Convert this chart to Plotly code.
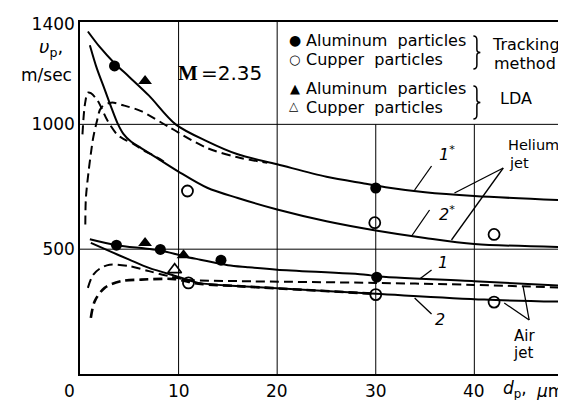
import plotly.graph_objects as go

# ---------------- data ----------------
# Helium jet, calculated curves
he1_x = [0.8, 2.0, 3.5, 5.0, 7.0, 9.7, 12.9, 16, 20, 25, 29, 31, 35, 40, 49.5]
he1_v = [1372, 1310, 1245, 1190, 1115, 1000, 932, 880, 840, 790, 762, 748, 728, 713, 695]
he2_x = [1.0, 1.7, 2.5, 3.2, 3.8, 4.4, 5.2, 6.2, 7.5, 9.9, 12.9, 16, 20, 25, 30, 35, 40, 49.5]
he2_v = [1317, 1225, 1140, 1065, 1005, 962, 930, 905, 873, 813, 746, 705, 659, 612, 575, 545, 521, 508]
heA_x = [0.25, 0.5, 0.8, 1.1, 1.8, 2.8, 3.8, 4.5, 5.4, 6.5, 7.9, 8.6]
heA_v = [960, 1080, 1127, 1125, 1094, 1014, 958, 940, 922, 895, 866, 848]
heB_x = [0.54, 0.6, 0.88, 1.14, 1.31, 1.7, 2.15, 3.16, 4.5, 6.2, 9.2, 12.9, 16, 19]
heB_v = [599, 706, 814, 894, 940, 1010, 1067, 1087, 1075, 1053, 985, 905, 868, 846]

# Air jet, calculated curves
air1_x = [1.0, 3.7, 6.6, 8.2, 10.5, 12.2, 15, 17, 20, 29, 30, 40, 49.6]
air1_v = [540, 516, 503, 495, 472, 458, 436, 428, 418, 398, 392, 372, 352]
air2_x = [1.1, 3.0, 5.0, 7.0, 9.9, 12.0, 16, 20, 30, 41, 49.6]
air2_v = [525, 492, 458, 425, 390, 365, 352, 343, 321, 298, 289]
airC_x = [0.8, 1.3, 2.0, 3.0, 5.0, 7.0, 9.0, 11.0, 16, 30, 40, 49.6]
airC_v = [345, 395, 422, 438, 432, 412, 392, 377, 372, 365, 357, 345]
airD_x = [1.1, 1.5, 2.5, 4.2, 6.2, 9.6, 12.0, 16, 20, 30]
airD_v = [225, 292, 345, 372, 378, 380, 362, 352, 343, 321]

# Experimental points
al_track_x = [3.5, 30.0, 3.7, 8.15, 14.3, 30.1]
al_track_v = [1234, 745, 516, 499, 456, 388]
cu_track_x = [10.9, 29.9, 42.0, 11.0, 30.0, 42.0]
cu_track_v = [733, 606, 559, 365, 318, 288]
al_lda_x = [6.6, 6.6, 10.5]
al_lda_v = [1174, 525, 476]
cu_lda_x = [9.6]
cu_lda_v = [418]

x_ticks = [0, 10, 20, 30, 40]
x_tick_labels = ["0", "10", "20", "30", "40"]
y_ticks = [500, 1000, 1400]

# ---------------- figure ----------------
W, H = 566, 400
L, R, T, B = 72, 4, 14, 34
PW, PH = W - L - R, H - T - B
FONT = "DejaVu Sans"
XMAX, YMAX = 49.5, 1410


def P(px, py):
    return (px - L) / PW, (H - B - py) / PH


fig = go.Figure()

solid = dict(color="black", width=2, shape="spline", smoothing=0.9)
dashed = dict(color="black", width=2, shape="spline", smoothing=0.9, dash="9px,5px")

for xs, ys in [(he1_x, he1_v), (he2_x, he2_v), (air1_x, air1_v), (air2_x, air2_v)]:
    fig.add_trace(go.Scatter(x=xs, y=ys, mode="lines", line=solid, showlegend=False, hoverinfo="skip"))
for xs, ys in [(heA_x, heA_v), (heB_x, heB_v), (airC_x, airC_v)]:
    fig.add_trace(go.Scatter(x=xs, y=ys, mode="lines", line=dashed, showlegend=False, hoverinfo="skip"))
fig.add_trace(go.Scatter(x=airD_x, y=airD_v, mode="lines",
                         line=dict(color="black", width=2.6, shape="spline", smoothing=0.9, dash="9px,5px"),
                         showlegend=False, hoverinfo="skip"))

fig.add_trace(go.Scatter(x=al_track_x, y=al_track_v, mode="markers", showlegend=False,
                         marker=dict(symbol="circle", size=11, color="black")))
fig.add_trace(go.Scatter(x=cu_track_x, y=cu_track_v, mode="markers", showlegend=False,
                         marker=dict(symbol="circle-open", size=11, color="black", line=dict(width=1.8, color="black"))))
fig.add_trace(go.Scatter(x=al_lda_x, y=al_lda_v, mode="markers", showlegend=False,
                         marker=dict(symbol="triangle-up", size=12, color="black")))
fig.add_trace(go.Scatter(x=cu_lda_x, y=cu_lda_v, mode="markers", showlegend=False,
                         marker=dict(symbol="triangle-up-open", size=12, color="black", line=dict(width=1.6, color="black"))))

shapes = []
grid = dict(color="black", width=1)
for xv in [10, 20]:
    shapes.append(dict(type="line", xref="x", yref="y", x0=xv, x1=xv, y0=0, y1=YMAX, line=grid, layer="below"))
for xv in [30, 40]:
    shapes.append(dict(type="line", xref="x", yref="y", x0=xv, x1=xv, y0=0, y1=1000, line=grid, layer="below"))
for yv in [500, 1000]:
    shapes.append(dict(type="line", xref="x", yref="y", x0=0, x1=XMAX, y0=yv, y1=yv, line=grid, layer="below"))

# leader lines (pixel positions)
leaders = [
    ((425, 158), (408, 182)),   # 1*
    ((423, 202), (405, 228)),   # 2*
    ((497, 160), (448, 185)),   # Helium jet -> 1*
    ((497, 160), (445, 232)),   # Helium jet -> 2*
    ((425, 262), (413, 271)),   # 1
    ((425, 306), (408, 290)),   # 2
    ((523, 312), (498, 295)),   # Air jet
    ((523, 312), (517, 279)),   # Air jet
]
for (a, b) in leaders:
    x0, y0 = P(*a)
    x1, y1 = P(*b)
    shapes.append(dict(type="line", xref="paper", yref="paper", x0=x0, y0=y0, x1=x1, y1=y1,
                       line=dict(color="black", width=1.3)))


def brace(px, top, bot):
    mid = (top + bot) / 2
    pts = [
        ("M", [(px, top)]),
        ("Q", [(px + 3.5, top), (px + 3.5, top + 4)]),
        ("L", [(px + 3.5, mid - 3)]),
        ("Q", [(px + 3.5, mid), (px + 7, mid)]),
        ("Q", [(px + 3.5, mid), (px + 3.5, mid + 3)]),
        ("L", [(px + 3.5, bot - 4)]),
        ("Q", [(px + 3.5, bot), (px, bot)]),
    ]
    s = ""
    for cmd, ps in pts:
        s += cmd + " " + " ".join("%.5f,%.5f" % P(x, y) for x, y in ps) + " "
    return s


for top, bot in [(28, 61), (78, 111)]:
    shapes.append(dict(type="path", xref="paper", yref="paper", path=brace(467, top, bot),
                       line=dict(color="black", width=1.5)))

ann = []


def A(px, py, text, size=16, xanchor="center", family=FONT):
    x, y = P(px, py)
    ann.append(dict(xref="paper", yref="paper", x=x, y=y, text=text, showarrow=False,
                    xanchor=xanchor, yanchor="middle", font=dict(family=family, size=size, color="black")))


# x tick labels (placed just under the axis, "0" sits left of the origin as in the source)
for xv, lab in zip(x_ticks, x_tick_labels):
    px = L + xv * PW / XMAX
    if xv == 0:
        px -= 11
    A(px, 383, lab, 17)

# legend block
A(288, 32, "●", 14)
A(287, 51, "○", 13)
A(288, 80, "▲", 13)
A(287, 98, "△", 12)
A(297, 33, "Aluminum  particles", 16, "left")
A(297, 51, "Cupper  particles", 16, "left")
A(297, 81, "Aluminum  particles", 16, "left")
A(297, 99, "Cupper  particles", 16, "left")
A(520, 37, "Tracking", 16)
A(519, 56, "method", 16)
A(510, 90, "LDA", 16)

# M number
A(180, 65, "<b>M</b>", 21, "center", "Liberation Serif")
A(191, 65, "=2.35", 20, "left")

# axis titles
A(43, 40, "<i>υ</i><sub>p</sub>,", 18)
A(38, 67, "m/sec", 17)
A(495, 381, "<i>d</i><sub>p</sub>,", 17, "left")
A(528, 383, "<i>μ</i>m", 17, "left")

# curve labels
A(441, 145, "<i>1</i><sup>*</sup>", 16)
A(441, 205, "<i>2</i><sup>*</sup>", 16)
A(436, 255, "<i>1</i>", 16)
A(433, 311, "<i>2</i>", 16)
A(500, 137, "Helium", 14.5, "left")
A(501, 155, "jet", 14.5, "left")
A(518, 328, "Air", 15)
A(517, 345, "jet", 15)

fig.update_layout(
    width=W, height=H,
    margin=dict(l=L, r=R, t=T, b=B),
    paper_bgcolor="white", plot_bgcolor="white",
    shapes=shapes, annotations=ann,
    xaxis=dict(range=[0, XMAX], showgrid=False, zeroline=False, showline=True, mirror=True,
               linecolor="black", linewidth=1.5, tickvals=x_ticks, ticks="", showticklabels=False),
    yaxis=dict(range=[0, YMAX], showgrid=False, zeroline=False, showline=True, mirror=True,
               linecolor="black", linewidth=1.5, tickvals=y_ticks, ticks="",
               tickfont=dict(family=FONT, size=17, color="black")),
)

fig.write_html("out.html")
